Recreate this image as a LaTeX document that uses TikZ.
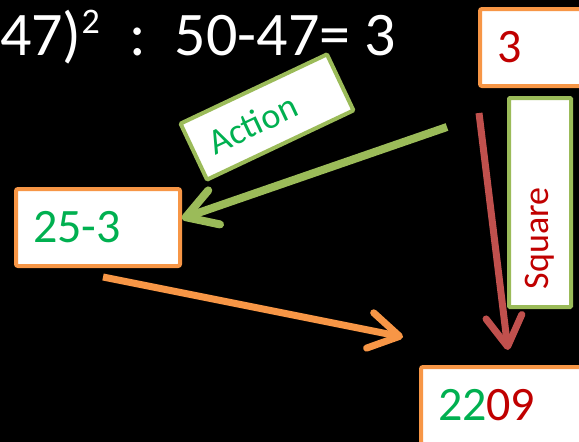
\documentclass[tikz,border=0pt]{standalone}
\usepackage{fontspec}
\setmainfont{Carlito}
\usetikzlibrary{arrows.meta, positioning}
\definecolor{boxorange}{HTML}{F79646}
\definecolor{boxgreen}{HTML}{9BBB59}
\definecolor{arrowred}{HTML}{C0504D}
\definecolor{txtgreen}{HTML}{00B050}
\definecolor{txtred}{HTML}{C00000}
\tikzset{
  numbox/.style={draw=boxorange, fill=white, line width=4pt, rounded corners=2pt,
    text width=130pt, align=left, inner xsep=17pt, minimum height=77pt,
    font=\fontsize{48}{48}\selectfont},
  labbox/.style={draw=boxgreen, fill=white, line width=4pt, rounded corners=1pt,
    align=left, inner xsep=18pt, minimum height=62pt,
    font=\fontsize{36}{36}\selectfont},
  flow/.style={line width=7pt, -{Straight Barb[length=30pt,width=36pt,round]}}
}
\begin{document}
\begin{tikzpicture}[x=1pt,y=-1pt]
  \useasboundingbox (0,0) rectangle (579,442);
  \clip (0,0) rectangle (579,442);
  \fill[black] (0,0) rectangle (579,442);
  % worked line
  \node[anchor=base east, inner sep=0pt, text=white, font=\fontsize{62}{62}\selectfont]
    (title) at (396,55) {47)\raisebox{22pt}{\fontsize{36}{36}\selectfont 2}\hspace{0.47em}:\hspace{0.47em}50-47= 3};
  % number boxes
  \node[numbox, anchor=north west] (diff) at (478,7) {\textcolor{txtred}{3}};
  \node[numbox, anchor=north west] (sub) at (14,187) {\textcolor{txtgreen}{25-3}};
  \node[numbox, anchor=north west] (prod) at (419,365) {\textcolor{txtgreen}{22}\textcolor{txtred}{09}};
  % labels
  \node[labbox, text width=126pt, rotate=25.3, text=txtgreen] (act) at (267,117) {Action};
  \node[labbox, text width=173pt, rotate=90, text=txtred] (sq) at (540,202.5) {Square};
  % arrows
  \coordinate (gs) at (447,127);
  \coordinate (rs) at (479,113);
  \coordinate (os) at (103,277);
  \coordinate (rt) at (508,350);
  \coordinate (ot) at (403,337);
  \draw[flow, draw=boxgreen, line width=8pt] (gs) -- ([yshift=9pt]sub.east);
  \draw[flow, draw=arrowred] (rs) -- (rt);
  \draw[flow, draw=boxorange] (os) -- (ot);
\end{tikzpicture}
\end{document}
